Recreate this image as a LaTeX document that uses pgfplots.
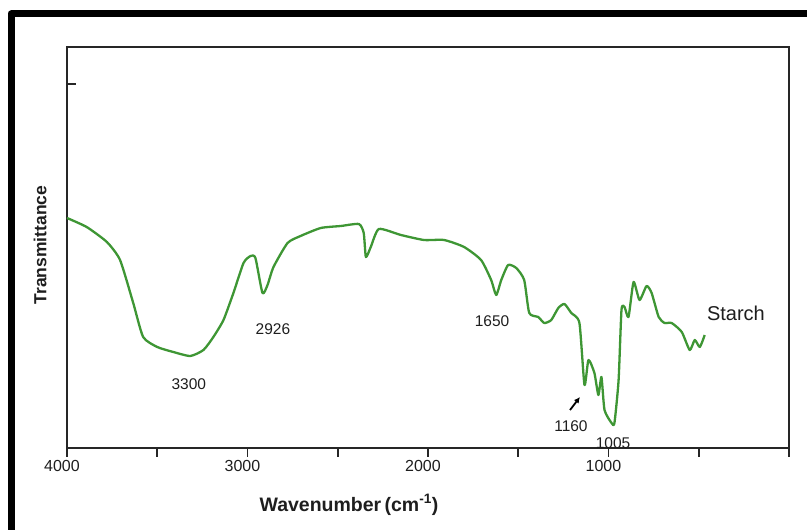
\documentclass[border=0pt]{standalone}
\usepackage{pgfplots}
\pgfplotsset{compat=1.18}
\usepackage{fontspec}
\setmainfont{Liberation Sans}
\usetikzlibrary{arrows.meta}
\definecolor{ftir}{RGB}{62,150,52}
\definecolor{txt}{RGB}{30,30,30}

\pgfplotstableread{
w     t
4000  232
3891  223
3779  208
3706  190
3633  147
3578  113
3500  103
3411   98
3317   94
3244  100
3189  113
3133  130
3078  157
3022  187
2983  194
2956  192
2917  157
2889  165
2856  183
2778  207
2706  214
2594  222
2483  224
2383  226
2356  217
2344  193
2317  203
2272  221
2150  215
2022  210
1911  210
1800  203
1706  190
1650  170
1622  155
1594  170
1556  185
1511  182
1467  170
1439  137
1389  133
1356  127
1317  130
1278  142
1244  146
1206  137
1161  127
1133   65
1111   90
1078   77
1056   55
1039   73
1022   40
 983   27
 967   27
 944   70
 928  140
 911  143
 889  133
 861  168
 828  150
 789  164
 761  157
 722  133
 689  127
 650  127
 594  118
 550  100
 522  110
 494  103
 467  115
}\starch

\begin{document}
\begin{tikzpicture}[x=1pt,y=1pt]
  \useasboundingbox (0,0) rectangle (807,530);
  % scanned frame, cut off at right and bottom
  \draw[line width=7pt,line join=round] (11,0) -- (11,516) -- (807,516);
  \begin{axis}[
    at={(67pt,82pt)}, anchor=south west,
    scale only axis,
    width=722pt, height=401pt,
    x dir=reverse,
    xmin=0, xmax=4000,
    ymin=2, ymax=403,
    axis line style={line width=2.2pt, black!85},
    xtick={0,500,...,4000},
    xticklabels={,,1000,,2000,,3000,,4000},
    xtick pos=lower,
    xtick align=outside,
    ytick={366},
    yticklabels={},
    ytick pos=left,
    ytick align=inside,
    major tick length=9pt,
    tick style={line width=1.6pt, black!85},
    /pgf/number format/assume math mode=true,
    xticklabel style={font=\fontsize{16}{16}\selectfont, text=txt, xshift=-5pt, yshift=0pt},
    clip=false,
  ]
    \addplot[ftir, line width=2.3pt, line join=round, smooth, tension=0.35]
      table[x=w, y=t] {\starch};

    \begin{scope}[every node/.style={font=\fontsize{15.5}{16}\selectfont, text=txt}]
      \node at (axis cs:3325,66) {3300};
      \node at (axis cs:2859,121) {2926};
      \node at (axis cs:1645,129) {1650};
      \node at (axis cs:1208,24) {1160};
      \node at (axis cs:975,7) {1005};
    \end{scope}
    \draw[-{Latex[length=6pt,width=6pt]}, line width=1.8pt, black]
      (axis cs:1213,40) -- (axis cs:1158,53);
    \node[font=\fontsize{20}{20}\selectfont, text=txt] at (axis cs:294,137) {Starch};
  \end{axis}
  \node[rotate=90, font=\bfseries\fontsize{17.5}{18}\selectfont, text=txt] at (40,285) {Transmittance};
  \node[font=\bfseries\fontsize{19.5}{20}\selectfont, text=txt] at (349,25) {Wavenumber\,(cm\textsuperscript{-1})};
\end{tikzpicture}
\end{document}
